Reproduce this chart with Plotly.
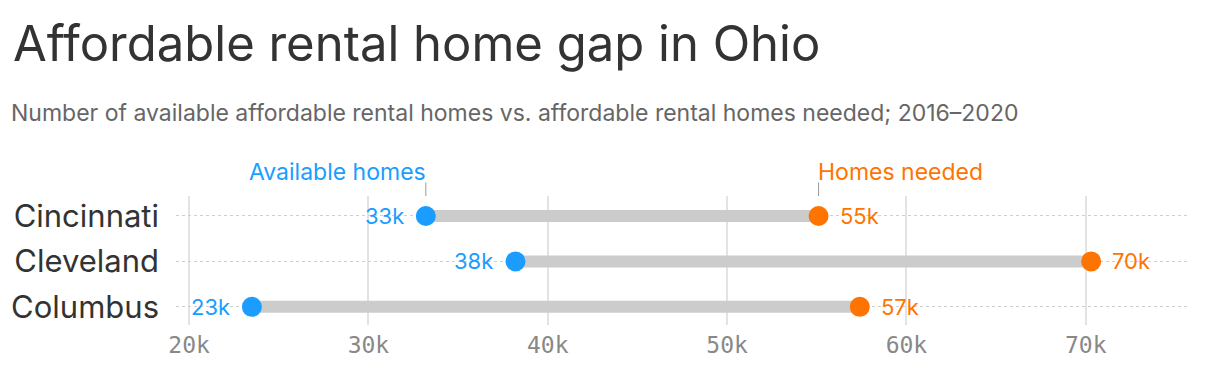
import plotly.graph_objects as go

cities = ["Cincinnati", "Cleveland", "Columbus"]
available = [33.2, 38.2, 23.5]   # thousands
needed = [55.1, 70.3, 57.4]      # thousands
avail_labels = ["33k", "38k", "23k"]
need_labels = ["55k", "70k", "57k"]
tick_vals = [20, 30, 40, 50, 60, 70]
tick_text = ["20k", "30k", "40k", "50k", "60k", "70k"]

BLUE = "#1a9dff"
ORANGE = "#ff7400"
GRAY_BAR = "#cccccc"
FONT = "Inter"

fig = go.Figure()

for c, a, n in zip(cities, available, needed):
    fig.add_trace(go.Scatter(
        x=[a, n], y=[c, c], mode="lines",
        line=dict(color=GRAY_BAR, width=12),
        hoverinfo="skip", showlegend=False))

fig.add_trace(go.Scatter(
    x=available, y=cities, mode="markers",
    marker=dict(color=BLUE, size=20),
    showlegend=False, name="Available homes"))

fig.add_trace(go.Scatter(
    x=needed, y=cities, mode="markers",
    marker=dict(color=ORANGE, size=20),
    showlegend=False, name="Homes needed"))

for c, a, n, al, nl in zip(cities, available, needed, avail_labels, need_labels):
    fig.add_annotation(x=a, y=c, text=al, showarrow=False, xanchor="right",
                       xshift=-20, yanchor="middle",
                       font=dict(color=BLUE, size=22, family=FONT))
    fig.add_annotation(x=n, y=c, text=nl, showarrow=False, xanchor="left",
                       xshift=19, yanchor="middle",
                       font=dict(color=ORANGE, size=22, family=FONT))

# series callout labels
fig.add_annotation(x=available[0], xref="x", y=1, yref="paper", yshift=24,
                   text="Available homes", showarrow=False,
                   xanchor="right", yanchor="middle", xshift=2,
                   font=dict(color=BLUE, size=23, family=FONT))
fig.add_annotation(x=needed[0], xref="x", y=1, yref="paper", yshift=24,
                   text="Homes needed", showarrow=False,
                   xanchor="left", yanchor="middle", xshift=-3,
                   font=dict(color=ORANGE, size=23, family=FONT))
for v in (available[0], needed[0]):
    fig.add_shape(type="line", x0=v, x1=v, xref="x", y0=1.0, y1=1.105,
                  yref="paper", line=dict(color="#999999", width=1))

fig.update_xaxes(
    range=[19.27, 75.7], tickvals=tick_vals, ticktext=tick_text,
    showgrid=True, gridcolor="#e3e3e3", gridwidth=1.5, zeroline=False,
    showline=False, ticks="", ticklabelstandoff=4, automargin=False,
    tickfont=dict(family="DejaVu Sans Mono", size=23, color="#888888"))

fig.update_yaxes(
    type="category", categoryorder="array", categoryarray=cities,
    range=[2.4, -0.44], showgrid=True, gridcolor="#cfcfcf", griddash="dot",
    gridwidth=1, zeroline=False, showline=False, ticks="",
    ticklabelstandoff=16, automargin=False,
    tickfont=dict(family=FONT, size=31, color="#333333"))

# page has an 8px body margin; figure coordinates compensate for it
fig.update_layout(
    width=1212, height=364,
    margin=dict(l=168, r=32, t=188, b=47),
    paper_bgcolor="white", plot_bgcolor="white",
    font=dict(family=FONT),
)

fig.add_annotation(x=0, xref="paper", xanchor="left", xshift=-168 + 3,
                   y=1, yref="paper", yshift=153, yanchor="middle",
                   text="Affordable rental home gap in Ohio", showarrow=False,
                   font=dict(family=FONT, size=49, color="#333333"))
fig.add_annotation(x=0, xref="paper", xanchor="left", xshift=-168 + 1,
                   y=1, yref="paper", yshift=83, yanchor="middle",
                   text="Number of available affordable rental homes vs. affordable rental homes needed; 2016–2020",
                   showarrow=False,
                   font=dict(family=FONT, size=23, color="#666666"))

fig.write_html("out.html")
